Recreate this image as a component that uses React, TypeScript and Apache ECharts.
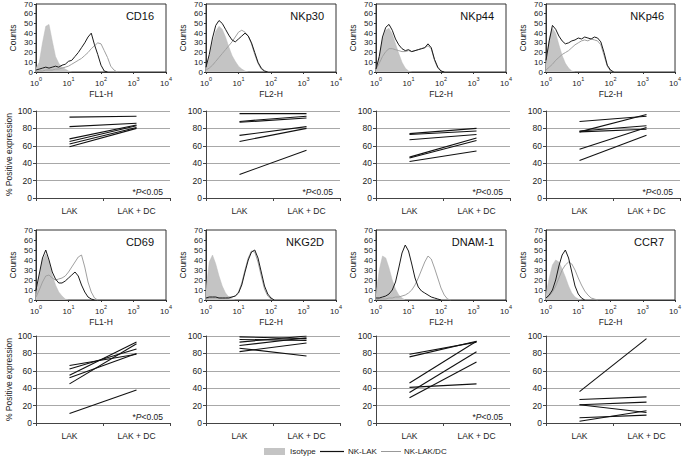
import React, { useEffect, useRef } from "react";
import * as echarts from "echarts";

const FONT = "'Liberation Sans', Arial, sans-serif";

// log10 fluorescence bins
const bins = [0, 0.1, 0.2, 0.3, 0.4, 0.5, 0.6, 0.7, 0.8, 0.9, 1.0, 1.1, 1.2, 1.3, 1.4, 1.5, 1.6, 1.7, 1.8, 1.9, 2.0, 2.1, 2.2, 2.3, 2.4, 2.5, 2.6, 2.7, 2.8, 2.9, 3.0];

const markers = ["CD16", "NKp30", "NKp44", "NKp46", "CD69", "NKG2D", "DNAM-1", "CCR7"];
const channels = ["FL1-H", "FL2-H", "FL2-H", "FL2-H", "FL1-H", "FL2-H", "FL2-H", "FL2-H"];
const groups = ["LAK", "LAK + DC"];
const significant = [true, true, true, true, true, false, true, false];

// histogram counts (Isotype, NK-LAK, NK-LAK/DC)
const cd16Iso = [4, 10, 30, 47, 49, 32, 16, 9, 5, 3, 1, 0];
const cd16Lak = [2, 3, 4, 5, 4, 5, 6, 5, 7, 8, 11, 12, 16, 20, 25, 30, 36, 40, 28, 18, 7, 1, 0];
const cd16Dc = [0, 1, 1, 2, 2, 2, 3, 3, 4, 5, 6, 8, 10, 12, 14, 17, 20, 24, 27, 30, 29, 22, 15, 6, 2, 0];

const nkp30Iso = [3, 15, 30, 42, 47, 44, 36, 26, 17, 11, 6, 3, 1, 0];
const nkp30Lak = [5, 18, 35, 48, 53, 50, 44, 38, 33, 31, 34, 37, 40, 37, 30, 20, 10, 4, 1, 0];
const nkp30Dc = [2, 4, 7, 11, 15, 19, 23, 27, 31, 36, 41, 43, 41, 37, 29, 18, 9, 3, 1, 0];

const nkp44Iso = [2, 16, 33, 43, 45, 39, 29, 19, 10, 4, 1, 0];
const nkp44Lak = [3, 16, 36, 46, 49, 43, 34, 28, 24, 22, 23, 21, 22, 23, 24, 25, 29, 25, 13, 5, 1, 0];
const nkp44Dc = [3, 9, 16, 21, 24, 24, 23, 22, 21, 21, 22, 21, 22, 23, 24, 25, 27, 24, 12, 4, 1, 0];

const nkp46Iso = [8, 35, 45, 40, 28, 17, 9, 4, 1, 0];
const nkp46Lak = [12, 32, 48, 44, 37, 32, 29, 30, 32, 33, 35, 34, 36, 35, 34, 36, 35, 31, 20, 7, 2, 0];
const nkp46Dc = [2, 5, 8, 12, 15, 18, 20, 22, 25, 28, 30, 32, 33, 32, 34, 33, 32, 28, 17, 6, 1, 0];

const cd69Iso = [5, 22, 40, 46, 38, 25, 15, 8, 4, 1, 0];
const cd69Lak = [10, 26, 42, 50, 40, 28, 21, 17, 17, 19, 22, 25, 28, 24, 15, 8, 3, 1, 0];
const cd69Dc = [3, 10, 18, 24, 25, 22, 20, 21, 22, 24, 28, 33, 38, 43, 45, 33, 18, 8, 2, 0];

const nkg2dIso = [10, 38, 45, 36, 24, 14, 7, 3, 1, 0];
const nkg2dLak = [2, 3, 3, 3, 2, 2, 2, 2, 3, 4, 7, 15, 28, 40, 48, 50, 42, 28, 14, 6, 2, 0];
const nkg2dDc = [1, 2, 2, 2, 2, 2, 2, 3, 3, 4, 8, 17, 30, 42, 49, 48, 38, 24, 11, 4, 1, 0];

const dnam1Iso = [6, 30, 44, 42, 32, 20, 11, 5, 2, 0];
const dnam1Lak = [2, 2, 3, 4, 6, 10, 18, 32, 47, 55, 49, 36, 22, 13, 9, 7, 5, 3, 2, 1, 0];
const dnam1Dc = [0, 1, 1, 1, 2, 2, 3, 3, 4, 5, 7, 10, 15, 22, 30, 38, 44, 41, 32, 22, 12, 5, 1, 0];

const ccr7Iso = [6, 22, 35, 40, 38, 31, 23, 14, 7, 3, 1, 0];
const ccr7Lak = [2, 5, 10, 20, 34, 45, 50, 42, 28, 14, 6, 2, 0];
const ccr7Dc = [2, 4, 8, 14, 22, 30, 35, 38, 36, 30, 22, 15, 9, 5, 2, 1, 0];

// % positive expression: [LAK, LAK + DC] per donor
const cd16Pairs = [[93, 94], [82, 86], [68, 84], [65, 83], [62, 81], [59, 80]];
const nkp30Pairs = [[97, 97], [88, 94], [87, 92], [72, 82], [65, 80], [27, 55]];
const nkp44Pairs = [[74, 80], [73, 77], [67, 73], [47, 69], [46, 66], [42, 54]];
const nkp46Pairs = [[88, 94], [76, 96], [77, 83], [76, 79], [56, 81], [43, 72]];
const cd69Pairs = [[66, 79], [62, 85], [55, 93], [52, 80], [45, 91], [11, 38]];
const nkg2dPairs = [[99, 97], [96, 95], [93, 100], [89, 98], [86, 77], [82, 92]];
const dnam1Pairs = [[79, 93], [76, 94], [46, 94], [41, 45], [35, 82], [29, 70]];
const ccr7Pairs = [[36, 97], [27, 30], [21, 24], [21, 12], [6, 9], [2, 14]];

const histIso = [cd16Iso, nkp30Iso, nkp44Iso, nkp46Iso, cd69Iso, nkg2dIso, dnam1Iso, ccr7Iso];
const histLak = [cd16Lak, nkp30Lak, nkp44Lak, nkp46Lak, cd69Lak, nkg2dLak, dnam1Lak, ccr7Lak];
const histDc = [cd16Dc, nkp30Dc, nkp44Dc, nkp46Dc, cd69Dc, nkg2dDc, dnam1Dc, ccr7Dc];
const pairs = [cd16Pairs, nkp30Pairs, nkp44Pairs, nkp46Pairs, cd69Pairs, nkg2dPairs, dnam1Pairs, ccr7Pairs];

function buildOption() {
  const grid: any[] = [];
  const xAxis: any[] = [];
  const yAxis: any[] = [];
  const series: any[] = [];
  const graphic: any[] = [];

  markers.forEach((m, p) => {
    const col = p % 4;
    const row = Math.floor(p / 4);
    const left = 36 + 170 * col;
    const hTop = row ? 230 : 4;
    const hHeight = row ? 70 : 68;
    const lTop = row ? 336 : 111;
    const hg = grid.length;
    grid.push({ left, top: hTop, width: 130, height: hHeight, show: true, borderColor: "#333", borderWidth: 1, backgroundColor: "transparent" });
    const lg = grid.length;
    grid.push({ left, top: lTop, width: 134, height: 87 });

    // histogram axes
    xAxis.push({
      type: "value", gridIndex: hg, min: 0, max: 4, interval: 1,
      name: channels[p], nameLocation: "middle", nameGap: 17,
      nameTextStyle: { fontFamily: FONT, fontSize: 8.5, color: "#222" },
      axisLine: { lineStyle: { color: "#333" } },
      axisTick: { length: 2, lineStyle: { color: "#333" } },
      splitLine: { show: false },
      axisLabel: {
        margin: 4,
        formatter: (v: number) => "{b|10}{s|" + v + "}",
        rich: {
          b: { fontFamily: FONT, fontSize: 8, color: "#222", lineHeight: 11, verticalAlign: "bottom" },
          s: { fontFamily: FONT, fontSize: 5.5, color: "#222", lineHeight: 6, verticalAlign: "top" },
        },
      },
    });
    yAxis.push({
      type: "value", gridIndex: hg, min: 0, max: 70, interval: 10,
      name: "Counts", nameLocation: "middle", nameGap: 19,
      nameTextStyle: { fontFamily: FONT, fontSize: 8.5, color: "#222" },
      axisLine: { show: true, lineStyle: { color: "#333" } },
      axisTick: { show: true, length: 2, lineStyle: { color: "#333" } },
      splitLine: { show: false },
      axisLabel: { fontFamily: FONT, fontSize: 8, color: "#222", margin: 3 },
    });
    // line chart axes
    xAxis.push({
      type: "category", gridIndex: lg, data: groups, boundaryGap: true,
      axisLine: { lineStyle: { color: "#444" } },
      axisTick: { show: true, length: 3, lineStyle: { color: "#444" } },
      axisLabel: { fontFamily: FONT, fontSize: 8.5, color: "#222", margin: 8 },
    });
    yAxis.push({
      type: "value", gridIndex: lg, min: 0, max: 100, interval: 20,
      name: col === 0 ? "% Positive expression" : "", nameLocation: "middle", nameGap: 21,
      nameTextStyle: { fontFamily: FONT, fontSize: 8.5, color: "#222" },
      axisLine: { show: true, lineStyle: { color: "#444" } },
      axisTick: { show: true, length: 3, lineStyle: { color: "#444" } },
      splitLine: { show: true, lineStyle: { color: "#a8a8a8", width: 1 } },
      axisLabel: { fontFamily: FONT, fontSize: 8.5, color: "#222", margin: 4 },
    });

    const hx = xAxis.length - 2;
    const hy = yAxis.length - 2;
    series.push({
      type: "line", xAxisIndex: hx, yAxisIndex: hy, symbol: "none", silent: true,
      data: histIso[p].map((v, i) => [bins[i], v]),
      lineStyle: { color: "#bcbcbc", width: 0.5 },
      areaStyle: { color: "#c4c4c4", opacity: 1 },
    });
    series.push({
      type: "line", xAxisIndex: hx, yAxisIndex: hy, symbol: "none", silent: true,
      data: histDc[p].map((v, i) => [bins[i], v]),
      lineStyle: { color: "#a0a0a0", width: 1 },
    });
    series.push({
      type: "line", xAxisIndex: hx, yAxisIndex: hy, symbol: "none", silent: true,
      data: histLak[p].map((v, i) => [bins[i], v]),
      lineStyle: { color: "#1a1a1a", width: 1 },
    });
    pairs[p].forEach((pr) => {
      series.push({
        type: "line", xAxisIndex: hx + 1, yAxisIndex: hy + 1, symbol: "none", silent: true,
        data: pr, lineStyle: { color: "#111", width: 1.1 },
      });
    });

    graphic.push({
      type: "text", x: left + 118, y: hTop + 12, silent: true,
      style: { text: m, fontFamily: FONT, fontSize: 11, fill: "#111", align: "right", verticalAlign: "middle" },
    });
    if (significant[p]) {
      graphic.push({
        type: "text", x: left + 127, y: lTop + 81, silent: true,
        style: {
          text: "*{i|P}<0.05", fontFamily: FONT, fontSize: 8.5, fill: "#222", align: "right", verticalAlign: "middle",
          rich: { i: { fontFamily: FONT, fontSize: 8.5, fontStyle: "italic", fill: "#222" } },
        },
      });
    }
  });

  // legend
  graphic.push({ type: "rect", shape: { x: 264, y: 448, width: 21, height: 7 }, style: { fill: "#c4c4c4" } });
  graphic.push({ type: "text", x: 290, y: 451.5, style: { text: "Isotype", fontFamily: FONT, fontSize: 8, fill: "#222", verticalAlign: "middle" } });
  graphic.push({ type: "line", shape: { x1: 320, y1: 451.5, x2: 344, y2: 451.5 }, style: { stroke: "#111", lineWidth: 1.2 } });
  graphic.push({ type: "text", x: 348, y: 451.5, style: { text: "NK-LAK", fontFamily: FONT, fontSize: 8, fill: "#222", verticalAlign: "middle" } });
  graphic.push({ type: "line", shape: { x1: 381, y1: 451.5, x2: 401, y2: 451.5 }, style: { stroke: "#999", lineWidth: 1 } });
  graphic.push({ type: "text", x: 404, y: 451.5, style: { text: "NK-LAK/DC", fontFamily: FONT, fontSize: 8, fill: "#222", verticalAlign: "middle" } });

  return { animation: false, backgroundColor: "#fff", grid, xAxis, yAxis, series, graphic };
}

export default function App() {
  const ref = useRef<HTMLDivElement>(null);
  useEffect(() => {
    if (!ref.current) return;
    const chart = echarts.init(ref.current, undefined, { renderer: "svg" });
    chart.setOption(buildOption() as any);
    return () => chart.dispose();
  }, []);
  return <div ref={ref} style={{ position: "absolute", left: 0, top: 0, width: 684, height: 456 }} />;
}
